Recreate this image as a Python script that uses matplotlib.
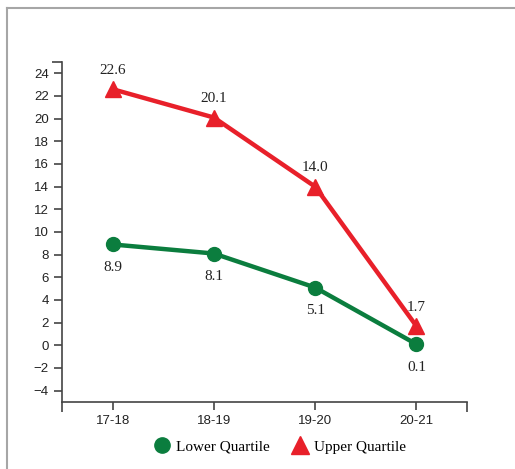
import matplotlib
matplotlib.use("Agg")
import matplotlib.pyplot as plt
from matplotlib.lines import Line2D

years = ["17-18", "18-19", "19-20", "20-21"]
lower = [8.9, 8.1, 5.1, 0.1]
upper = [22.6, 20.1, 14.0, 1.7]
yticks = list(range(-4, 25, 2))

red = "#e8202a"
green = "#0b7d3e"

fig = plt.figure(figsize=(5.15, 4.69), dpi=100)
ax = fig.add_axes([0.1204, 0.1429, 0.7864, 0.7249])

x = range(len(years))
ax.plot(x, lower, color=green, lw=3.2, marker="o", ms=10, zorder=3)
ax.plot(x, upper, color=red, lw=3.2, marker="^", ms=12, zorder=3)

for i, v in enumerate(lower):
    ax.annotate(f"{v:.1f}", (i, v), xytext=(0, -12), textcoords="offset points",
                ha="center", va="top", family="Liberation Serif", fontsize=11, color="#222222")
for i, v in enumerate(upper):
    ax.annotate(f"{v:.1f}", (i, v), xytext=(0, 9), textcoords="offset points",
                ha="center", va="bottom", family="Liberation Serif", fontsize=11, color="#222222")

ax.set_xlim(-0.5, 3.5)
ax.set_ylim(-5, 25)
ax.set_xticks(list(x))
ax.set_xticklabels(years)
ax.set_xticks([-0.5, 3.5], minor=True)
ax.set_yticks(yticks)
ax.set_yticklabels([str(t).replace("-", "\u2212") for t in yticks])
ax.set_yticks([25], minor=True)

for s in ["top", "right"]:
    ax.spines[s].set_visible(False)
for s in ["left", "bottom"]:
    ax.spines[s].set_color("#444444")
    ax.spines[s].set_linewidth(1.2)
ax.tick_params(which="both", color="#444444", width=1.2, length=6,
               labelsize=9.5, labelcolor="#222222")
ax.tick_params(which="minor", length=7)
for lab in ax.get_xticklabels() + ax.get_yticklabels():
    lab.set_family("Liberation Sans")

handles = [
    Line2D([], [], color=green, marker="o", ms=11, ls="none"),
    Line2D([], [], color=red, marker="^", ms=13, ls="none"),
]
fig.legend(handles, ["Lower Quartile", "Upper Quartile"], loc="center",
           bbox_to_anchor=(0.543, 0.047), ncol=2, frameon=False,
           prop={"family": "Liberation Serif", "size": 11},
           handletextpad=0.3, columnspacing=1.4, handlelength=1.2)

# frame around the figure (top and left edges)
fig.add_artist(Line2D([0.0136, 1.0], [0.984, 0.984], transform=fig.transFigure,
                      color="#a6a6a6", lw=1.5))
fig.add_artist(Line2D([0.0136, 0.0136], [0.0, 0.984], transform=fig.transFigure,
                      color="#a6a6a6", lw=1.5))

fig.savefig("out.png", dpi=100)
